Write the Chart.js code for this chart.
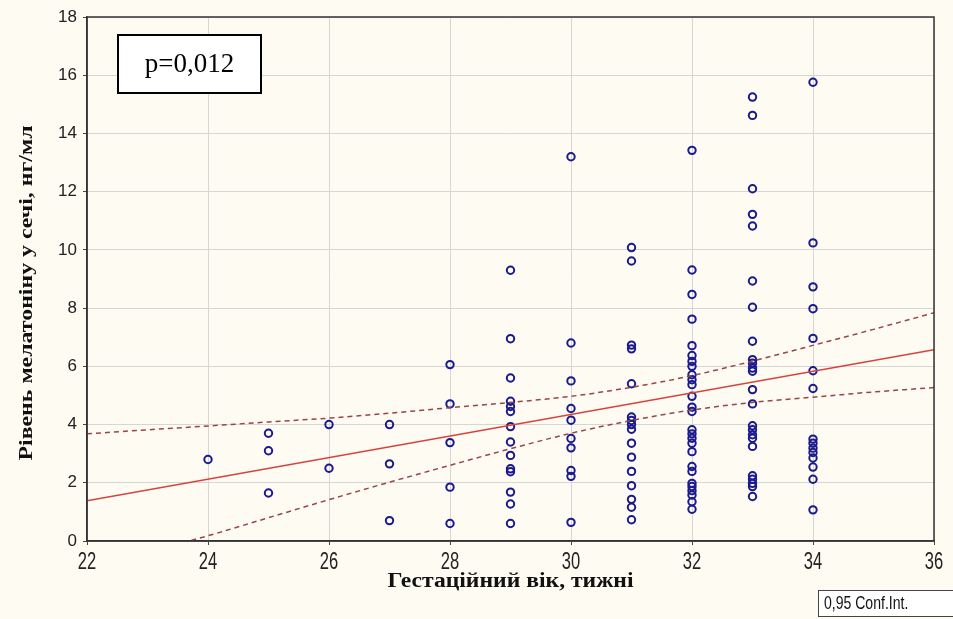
<!DOCTYPE html>
<html>
<head>
<meta charset="utf-8">
<script src="https://cdn.jsdelivr.net/npm/chart.js@4"></script>
<style>
  html, body { margin: 0; padding: 0; background: #fdfbf2; }
  #wrap { width: 953px; height: 619px; }
</style>
</head>
<body>
<div id="wrap"><canvas id="chart" width="953" height="619"></canvas></div>
<script>
// gestational age (weeks) and urinary melatonin (ng/ml)
const weeks = [24, 25, 26, 27, 28, 29, 30, 31, 32, 33, 34];
const melatonin = [
    [2.8],
    [3.7, 3.1, 1.65],
    [4.0, 2.5],
    [4.0, 2.65, 0.7],
    [6.06, 4.71, 3.38, 1.85, 0.6],
    [9.3, 6.95, 5.6, 4.8, 4.62, 4.45, 3.93, 3.4, 2.94, 2.48, 2.38, 1.68, 1.27, 0.6],
    [13.2, 6.8, 5.5, 4.55, 4.15, 3.52, 3.2, 2.42, 2.22, 0.64],
    [10.08, 9.62, 6.73, 6.6, 5.4, 4.26, 4.14, 4.0, 3.84, 3.36, 2.88, 2.39, 1.9, 1.43, 1.16, 0.73],
    [13.42, 9.31, 8.47, 7.62, 6.71, 6.37, 6.17, 6.0, 5.71, 5.54, 5.37, 4.97, 4.6, 4.45, 3.82, 3.68,
     3.53, 3.36, 3.07, 2.56, 2.39, 1.98, 1.87, 1.73, 1.58, 1.35, 1.09],
    [15.25, 14.62, 12.1, 11.22, 10.82, 8.93, 8.03, 6.86, 6.23, 6.11, 5.94, 5.83, 5.2, 4.71, 3.96, 3.82,
     3.65, 3.53, 3.25, 2.24, 2.12, 1.98, 1.87, 1.53],
    [15.76, 10.24, 8.73, 7.98, 6.96, 5.85, 5.24, 3.5, 3.36, 3.19, 3.04, 2.85, 2.54, 2.12, 1.07]
];

// regression line and 0,95 confidence band, read at the axis positions
const fitX = [22, 36];
const fitY = [1.38, 6.57];
const bandX = [22, 23, 24, 25, 26, 27, 28, 29, 30, 31, 32, 33, 34, 35, 36];
const upperBand = [3.68, 3.82, 3.95, 4.09, 4.22, 4.39, 4.58, 4.76, 4.97, 5.28, 5.68, 6.18, 6.72, 7.27, 7.84];
const lowerBand = [-0.95, -0.38, 0.18, 0.8, 1.42, 2.02, 2.6, 3.17, 3.7, 4.14, 4.5, 4.76, 4.94, 5.12, 5.27];

const xTicks = [22, 24, 26, 28, 30, 32, 34, 36];
const yTicks = [0, 2, 4, 6, 8, 10, 12, 14, 16, 18];

const xTitle = 'Гестаційний вік, тижні';
const yTitle = 'Рівень мелатоніну у сечі, нг/мл';
const pLabel = 'p=0,012';
const ciLabel = '0,95 Conf.Int.';

const scatterPts = [];
weeks.forEach((w, i) => melatonin[i].forEach(v => scatterPts.push({ x: w, y: v })));

const toPts = (xs, ys) => xs.map((x, i) => ({ x: x, y: ys[i] }));

// text squeezed horizontally, the source picture was narrowed
function narrowText(ctx, text, x, y, sx) {
    ctx.save();
    ctx.translate(x, y);
    ctx.scale(sx, 1);
    ctx.fillText(text, 0, 0);
    ctx.restore();
}

// draws the frame, narrow x tick labels, axis titles and the two boxed labels
const decorations = {
    id: 'decorations',
    afterDraw(chart) {
        const { ctx, chartArea: a } = chart;
        const xs = chart.scales.x;
        ctx.save();
        ctx.strokeStyle = '#333';
        ctx.lineWidth = 1.5;
        ctx.strokeRect(a.left, a.top, a.right - a.left, a.bottom - a.top);

        ctx.fillStyle = '#222';
        ctx.textAlign = 'center';
        ctx.textBaseline = 'middle';
        ctx.font = '23px "Liberation Sans", Arial, sans-serif';
        xs.ticks.forEach(t => narrowText(ctx, String(t.value), xs.getPixelForValue(t.value), 563, 0.72));

        ctx.fillStyle = '#111';
        // x title
        ctx.font = 'bold 20px "Liberation Serif", "Times New Roman", serif';
        let w = ctx.measureText(xTitle).width;
        narrowText(ctx, xTitle, (a.left + a.right) / 2, 582, 246 / w);

        // y title
        w = ctx.measureText(yTitle).width;
        ctx.save();
        ctx.translate(27, 293);
        ctx.rotate(-Math.PI / 2);
        ctx.scale(335 / w, 0.9);
        ctx.fillText(yTitle, 0, 0);
        ctx.restore();

        // p value box
        ctx.fillStyle = '#fff';
        ctx.fillRect(118, 35, 143, 58);
        ctx.strokeStyle = '#000';
        ctx.lineWidth = 2;
        ctx.strokeRect(118, 35, 143, 58);
        ctx.fillStyle = '#000';
        ctx.font = '27px "Liberation Serif", "Times New Roman", serif';
        ctx.fillText(pLabel, 189.5, 65);

        // confidence interval legend box
        ctx.fillStyle = '#fff';
        ctx.fillRect(818, 590, 140, 27);
        ctx.strokeStyle = '#444';
        ctx.lineWidth = 1;
        ctx.strokeRect(818.5, 590.5, 140, 26);
        ctx.fillStyle = '#111';
        ctx.textAlign = 'left';
        ctx.font = '18px "Liberation Sans", Arial, sans-serif';
        narrowText(ctx, ciLabel, 824, 604, 0.78);
        ctx.restore();
    }
};

const ctx = document.getElementById('chart').getContext('2d');
new Chart(ctx, {
    type: 'scatter',
    data: {
        datasets: [
            {
                type: 'line',
                data: toPts(fitX, fitY),
                borderColor: '#d8413d',
                borderWidth: 1.5,
                pointRadius: 0,
                fill: false
            },
            {
                type: 'line',
                data: toPts(bandX, upperBand),
                borderColor: '#9a4548',
                borderWidth: 1.5,
                borderDash: [5, 4],
                pointRadius: 0,
                cubicInterpolationMode: 'monotone',
                fill: false
            },
            {
                type: 'line',
                data: toPts(bandX, lowerBand),
                borderColor: '#9a4548',
                borderWidth: 1.5,
                borderDash: [5, 4],
                pointRadius: 0,
                cubicInterpolationMode: 'monotone',
                fill: false
            },
            {
                data: scatterPts,
                pointStyle: 'circle',
                pointRadius: 3.7,
                borderWidth: 2,
                borderColor: '#1a1a8e',
                backgroundColor: 'rgba(255,255,255,0)'
            }
        ]
    },
    options: {
        responsive: false,
        animation: false,
        layout: {
            padding: { top: 17, right: 19, left: 0, bottom: 0 }
        },
        plugins: {
            legend: { display: false },
            tooltip: { enabled: false }
        },
        scales: {
            x: {
                type: 'linear',
                min: 22,
                max: 36,
                afterBuildTicks: s => { s.ticks = xTicks.map(v => ({ value: v })); },
                afterFit: s => { s.height = 78; },
                ticks: { display: false },
                grid: { color: '#d6d6d6', lineWidth: 1, tickLength: 4, tickColor: '#444' },
                border: { color: '#333', width: 1.5 }
            },
            y: {
                min: 0,
                max: 18,
                afterBuildTicks: s => { s.ticks = yTicks.map(v => ({ value: v })); },
                afterFit: s => { s.width = 87; },
                ticks: {
                    color: '#222',
                    padding: 6,
                    font: { family: '"Liberation Sans", Arial', size: 17 }
                },
                grid: { color: '#d6d6d6', lineWidth: 1, tickLength: 4, tickColor: '#444' },
                border: { color: '#333', width: 1.5 }
            }
        }
    },
    plugins: [decorations]
});
</script>
</body>
</html>
